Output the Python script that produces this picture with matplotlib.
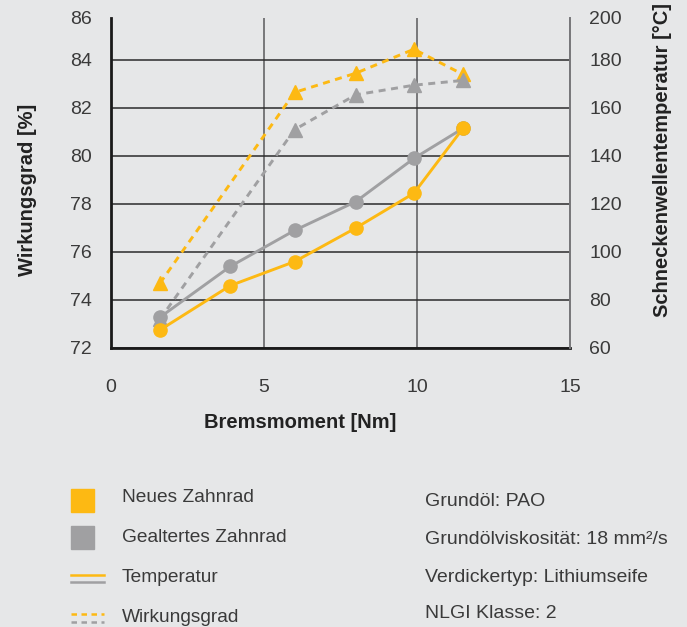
import matplotlib
matplotlib.use("Agg")
import matplotlib.pyplot as plt
from matplotlib.patches import Rectangle
from matplotlib.lines import Line2D

plt.rcParams["font.family"] = ["Liberation Sans", "DejaVu Sans"]

# Messwerte
moment = [1.6, 3.9, 6.0, 8.0, 9.9, 11.5]
temp_neu = [67.5, 86.0, 96.0, 110.0, 124.5, 151.5]
temp_alt = [72.8, 94.0, 109.0, 121.0, 139.0, 151.5]

moment_wg = [1.6, 6.0, 8.0, 9.9, 11.5]
wg_neu = [74.7, 82.65, 83.45, 84.45, 83.4]
wg_alt = [73.2, 81.1, 82.55, 82.95, 83.15]

x_ticks = [0, 5, 10, 15]
wg_ticks = [72, 74, 76, 78, 80, 82, 84]
temp_ticks = [60, 80, 100, 120, 140, 160, 180]

legend_labels = ["Neues Zahnrad", "Gealtertes Zahnrad", "Temperatur", "Wirkungsgrad"]
info_lines = ["Grundöl: PAO", "Grundölviskosität: 18 mm²/s",
              "Verdickertyp: Lithiumseife", "NLGI Klasse: 2"]

GELB = "#FDB913"
GRAU = "#A0A0A2"
BG = "#E6E7E8"
TXT = "#3a3a3a"

W, H = 687, 627
fig = plt.figure(figsize=(W / 100, H / 100), dpi=100, facecolor=BG)


def fx(px):
    return px / W


def fy(py):
    return 1 - py / H


ax = fig.add_axes([fx(111), fy(348), fx(570) - fx(111), fy(18) - fy(348)])
ax.set_facecolor(BG)
ax2 = ax.twinx()

wg_top = 85.75
ax.set_xlim(0, 15)
ax.set_ylim(72, wg_top)
ax2.set_ylim(60, 60 + (wg_top - 72) * 10)

# Wirkungsgrad (gestrichelt, linke Achse)
ax.plot(moment_wg, wg_neu, color=GELB, lw=2.1, dashes=(2.4, 1.9),
        marker="^", ms=10, zorder=3)
ax.plot(moment_wg, wg_alt, color=GRAU, lw=2.1, dashes=(2.4, 1.9),
        marker="^", ms=10, zorder=3)

# Temperatur (durchgezogen, rechte Achse)
ax2.plot(moment, temp_alt, color=GRAU, lw=2.1, marker="o", ms=9.5)
ax2.plot(moment, temp_neu, color=GELB, lw=2.1, marker="o", ms=9.5)

# Achsen und Gitter
ax.set_xticks(x_ticks)
ax.set_yticks(wg_ticks + [wg_top])
ax.set_yticklabels([str(v) for v in wg_ticks] + ["86"])
ax2.set_yticks(temp_ticks + [60 + (wg_top - 72) * 10])
ax2.set_yticklabels([str(v) for v in temp_ticks] + ["200"])

ax.grid(axis="y", color="#2b2b2b", lw=1.1)
ax.grid(axis="x", color="#77777a", lw=1.4)
ax.get_ygridlines()[-1].set_visible(False)
ax.set_axisbelow(True)

ax.tick_params(axis="y", length=0, pad=14, labelsize=14, labelcolor=TXT)
ax.tick_params(axis="x", length=0, pad=22, labelsize=14, labelcolor=TXT)
ax2.tick_params(axis="y", length=0, pad=14, labelsize=14, labelcolor=TXT)

for s in ["top", "right"]:
    ax.spines[s].set_visible(False)
for s in ["left", "bottom"]:
    ax.spines[s].set_color("#1a1a1a")
    ax.spines[s].set_linewidth(2)
for s in ["top", "left", "bottom"]:
    ax2.spines[s].set_visible(False)
ax2.spines["right"].set_color("#77777a")
ax2.spines["right"].set_linewidth(1.4)

# Achsentitel
fig.text(fx(300), fy(423), "Bremsmoment [Nm]", ha="center", va="center",
         fontsize=14.5, fontweight="bold", color="#222222")
fig.text(fx(28), fy(190), "Wirkungsgrad [%]", ha="center", va="center",
         rotation=90, fontsize=14.5, fontweight="bold", color="#222222")
fig.text(fx(663), fy(160), "Schneckenwellentemperatur [°C]", ha="center",
         va="center", rotation=90, fontsize=14.5, fontweight="bold",
         color="#222222")

# Legende
fig.add_artist(Rectangle((fx(71), fy(512)), fx(23), 23 / H, color=GELB,
                         transform=fig.transFigure))
fig.add_artist(Rectangle((fx(71), fy(549)), fx(23), 23 / H, color=GRAU,
                         transform=fig.transFigure))
fig.add_artist(Line2D([fx(71), fx(104)], [fy(575), fy(575)], color=GELB,
                      lw=1.8, transform=fig.transFigure))
fig.add_artist(Line2D([fx(71), fx(104)], [fy(582), fy(582)], color=GRAU,
                      lw=1.8, transform=fig.transFigure))
fig.add_artist(Line2D([fx(71), fx(104)], [fy(614), fy(614)], color=GELB,
                      lw=1.8, dashes=(2.2, 1.8), transform=fig.transFigure))
fig.add_artist(Line2D([fx(71), fx(104)], [fy(622), fy(622)], color=GRAU,
                      lw=1.8, dashes=(2.2, 1.8), transform=fig.transFigure))

for label, py in zip(legend_labels, [498, 538, 578, 617]):
    fig.text(fx(122), fy(py), label, ha="left", va="center", fontsize=13.8,
             color=TXT)
for line, py in zip(info_lines, [501, 540, 577, 613]):
    fig.text(fx(425), fy(py), line, ha="left", va="center", fontsize=14,
             color=TXT)

fig.savefig("out.png", dpi=100, facecolor=BG)
